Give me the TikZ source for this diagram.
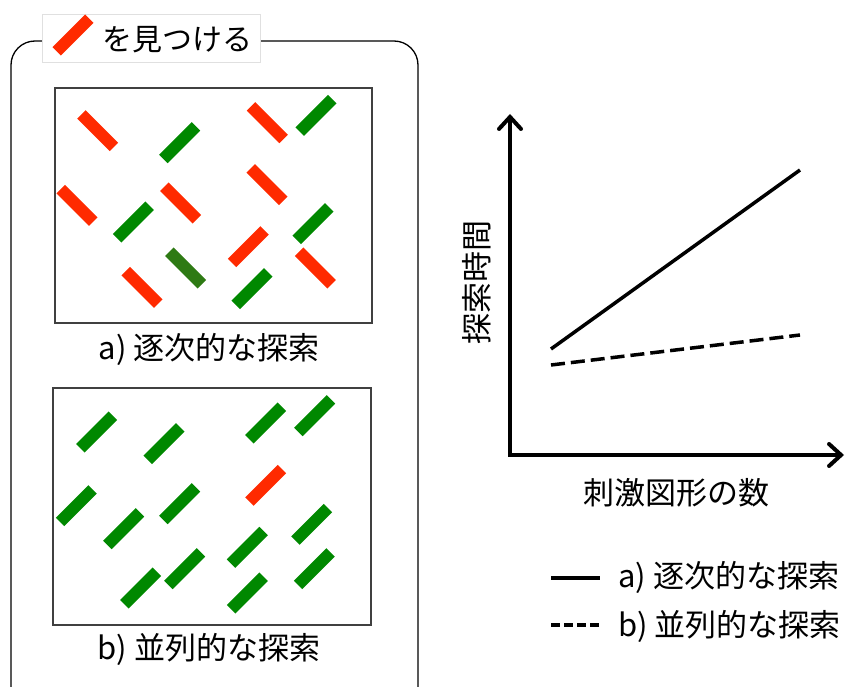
\documentclass[tikz,border=0pt]{standalone}
\usepackage{fontspec}
\setmainfont{Noto Sans CJK JP}
\usetikzlibrary{arrows.meta}
\definecolor{rbar}{HTML}{FF2A00}
\definecolor{gbar}{HTML}{008800}
\definecolor{dgbar}{HTML}{2E7A14}
\begin{document}
\begin{tikzpicture}[x=1pt,y=-1pt,
  bar/.style={minimum width=46pt, minimum height=12pt, inner sep=0pt, draw=none},
  lbl/.style={font=\fontsize{31}{36}\selectfont, inner sep=0pt},
  panel/.style={draw=black!75, line width=1.2pt, inner sep=0pt},
  axis/.style={line width=4pt, {Straight Barb[length=12pt, width=22pt, line cap=round]}-{Straight Barb[length=12pt, width=22pt, line cap=round]}},
  graphline/.style={line width=3.5pt}]
\useasboundingbox (0,0) rectangle (847,687);
% outer box
\draw[line width=1.3pt, rounded corners=24pt] (11,41) rectangle (418,712);
% title
\node[draw=black!12, fill=white, minimum width=218pt, minimum height=48pt, inner sep=0pt] (title) at (151,38) {};
\node[bar, fill=rbar, rotate=45] (tbar) at (73,35) {};
\node[lbl, anchor=west, font=\fontsize{30}{35}\selectfont] (ttext) at (102,40) {を見つける};
% panels
\node[panel, minimum width=317pt, minimum height=235pt] (pa) at (213.5,205.5) {};
\node[panel, minimum width=318pt, minimum height=237pt] (pb) at (212,506.5) {};
\node[lbl] (la) at (209,349) {a) 逐次的な探索};
\node[lbl] (lb) at (209,649) {b) 並列的な探索};
% panel a bars
\foreach \x/\y/\a/\c [count=\i] in {
  97.7/130.7/-45/rbar, 179.7/142.7/45/gbar, 267.3/122.7/-45/rbar, 316/115.3/45/gbar,
  267/184.7/-45/rbar, 77/205.3/-45/rbar, 133.3/222/45/gbar, 180.7/203/-45/rbar,
  313/223.7/45/gbar, 248.3/246.7/45/rbar, 315.3/268/-45/rbar, 185.7/268/-45/dgbar,
  142/287.3/-45/rbar, 252/288.7/45/gbar}
  \node[bar, fill=\c, rotate=\a] (a\i) at (\x,\y) {};
% panel b bars
\foreach \x/\y/\c [count=\i] in {
  96.7/432/gbar, 164/443.7/gbar, 265.7/423/gbar, 314.7/415.7/gbar,
  265.7/485.3/rbar, 76.3/505.7/gbar, 179.7/503.7/gbar, 123.7/528.7/gbar,
  311.7/524.3/gbar, 247.3/547.3/gbar, 184.7/568.7/gbar, 314.3/568.7/gbar,
  140.7/588/gbar, 247.3/593/gbar}
  \node[bar, fill=\c, rotate=45] (b\i) at (\x,\y) {};
% graph
\coordinate (ytop) at (510,114);
\coordinate (org) at (510,455);
\coordinate (xend) at (844,455);
\draw[axis] (ytop) -- (org) -- (xend);
\coordinate (s1) at (551,349);
\coordinate (s2) at (800,170);
\coordinate (d1) at (551,365);
\coordinate (d2) at (800,335);
\draw[graphline] (s1) -- (s2);
\draw[graphline, dash pattern=on 14pt off 6pt] (d1) -- (d2);
\node[lbl, rotate=90] (ylab) at (477,282.5) {探索時間};
\node[lbl] (xlab) at (676.5,493) {刺激図形の数};
% legend
\coordinate (l1a) at (551,578);
\coordinate (l1b) at (600,578);
\coordinate (l2a) at (551,625);
\coordinate (l2b) at (600,625);
\draw[graphline] (l1a) -- (l1b);
\draw[graphline, dash pattern=on 9pt off 4pt] (l2a) -- (l2b);
\node[lbl, anchor=west] (leg1) at (618,577) {a) 逐次的な探索};
\node[lbl, anchor=west] (leg2) at (618,626) {b) 並列的な探索};
\end{tikzpicture}
\end{document}
